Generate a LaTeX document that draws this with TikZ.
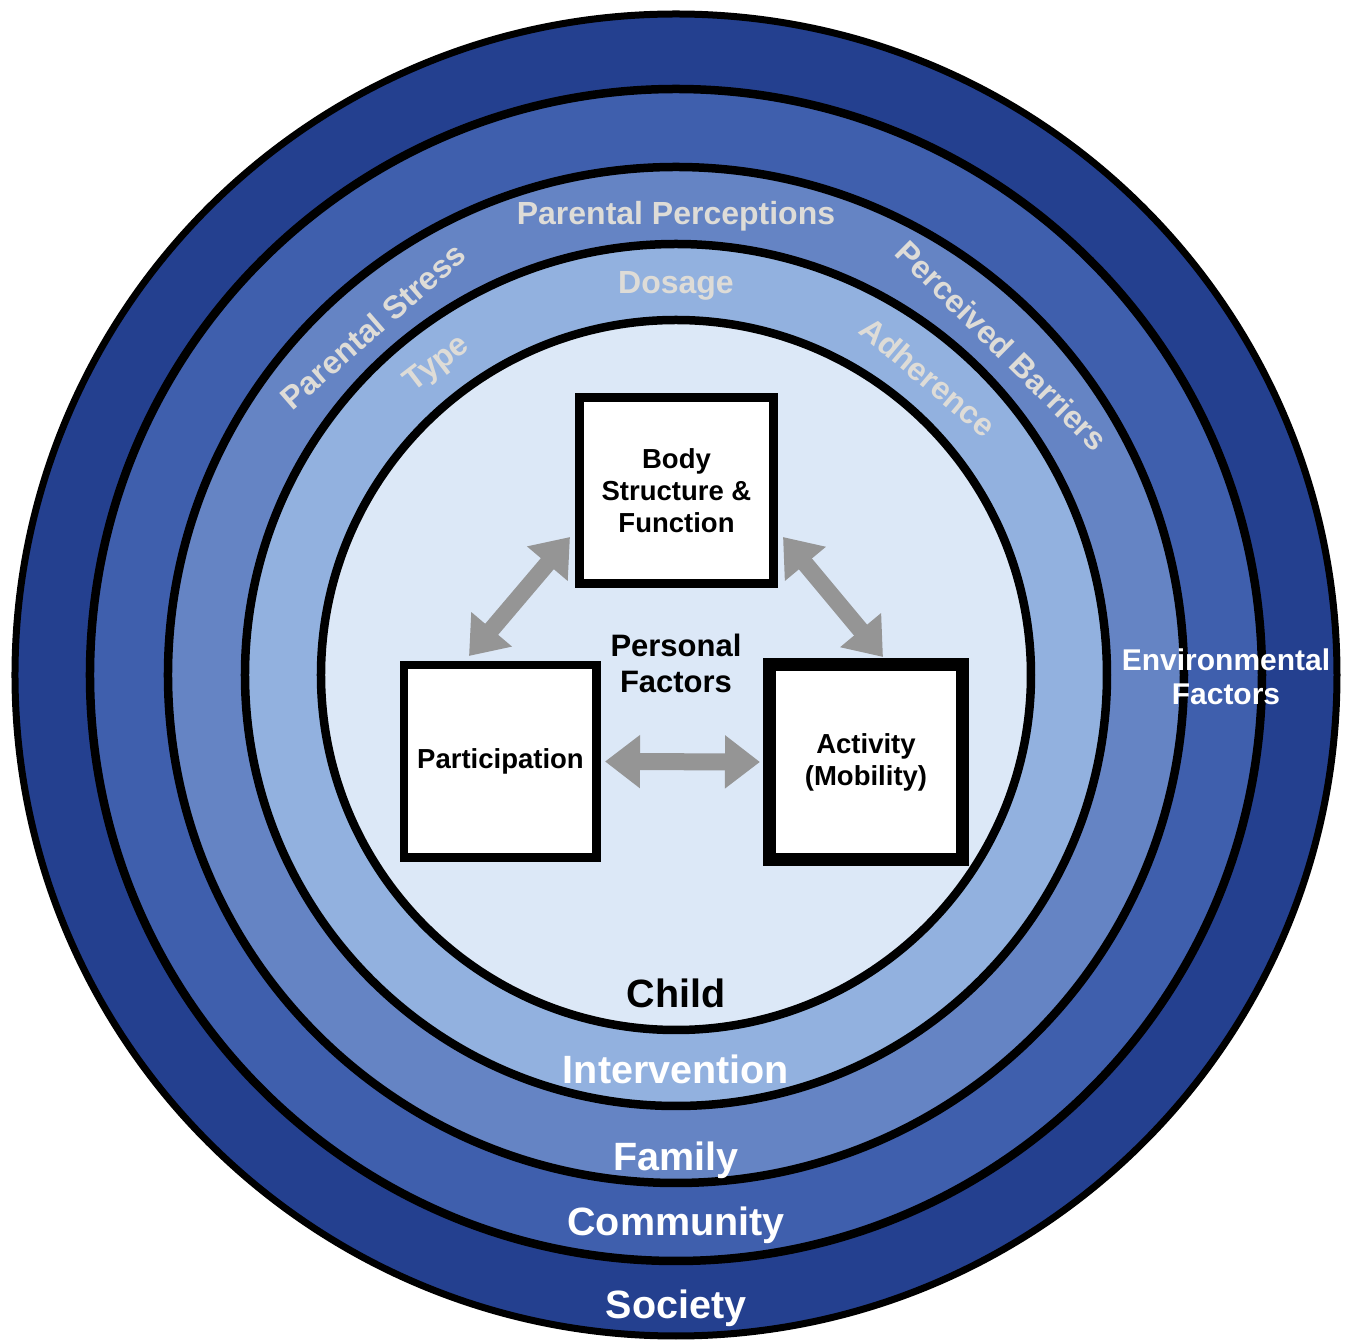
\documentclass[tikz,border=0pt]{standalone}
\usepackage{fontspec}
\setmainfont{Liberation Sans}
\usetikzlibrary{arrows.meta,calc}

% ring fills, darkest outside
\definecolor{societyblue}{HTML}{24408F}
\definecolor{communityblue}{HTML}{3F5FAD}
\definecolor{familyblue}{HTML}{6584C4}
\definecolor{interventionblue}{HTML}{92B1DF}
\definecolor{childblue}{HTML}{DCE8F7}
\definecolor{arrowgray}{HTML}{959595}
\definecolor{labelgray}{HTML}{DEDCD7}

\begin{document}
\begin{tikzpicture}[x=1pt,y=1pt,
  ring/.style={draw=black, line width=8.5pt},
  factorbox/.style={draw=black, fill=white, inner sep=0pt, align=center,
    font={\fontsize{27.5}{32}\selectfont\bfseries}},
  twoway/.style={draw=arrowgray, line width=17pt,
    {Triangle[length=35pt 0 0, width=51pt 0 0]}-{Triangle[length=35pt 0 0, width=51pt 0 0]}},
  levellabel/.style={anchor=base, text=white, inner sep=0pt,
    font={\fontsize{39.5}{44}\selectfont\bfseries}},
  ringlabel/.style={anchor=base, text=labelgray, inner sep=0pt,
    font={\fontsize{32}{36}\selectfont\bfseries}},
]
\useasboundingbox (-676,-668) rectangle (677,675);

% nested levels
\path[draw=black, line width=7pt, fill=societyblue] (0,0) circle[radius=661];
\path[ring, fill=communityblue] (0,0) circle[radius=586];
\path[ring, fill=familyblue] (0,0) circle[radius=508];
\path[ring, fill=interventionblue] (0,0) circle[radius=431];
\path[ring, fill=childblue] (0,0) circle[radius=355];

% factors set along the family and intervention rings
\node[ringlabel] (perceptions) at (90:450) {Parental Perceptions};
\node[ringlabel, rotate=41] (stress) at (131:451) {Parental Stress};
\node[ringlabel, rotate=-44.7] (barriers) at (45.3:452) {Perceived Barriers};
\node[ringlabel] (dosage) at (90:381) {Dosage};
\node[ringlabel, rotate=37.5] (type) at (127.5:384) {Type};
\node[ringlabel, rotate=-40.2] (adherence) at (49.8:379) {Adherence};

% level names
\node[levellabel, text=black] (child) at (0,-333) {Child};
\node[levellabel] (intervention) at (0,-409) {Intervention};
\node[levellabel] (family) at (0,-496) {Family};
\node[levellabel] (community) at (0,-561) {Community};
\node[levellabel] (society) at (0,-643) {Society};
\node[align=center, text=white, inner sep=0pt,
  font={\fontsize{30}{34}\selectfont\bfseries}] (environment) at (550,-2)
  {Environmental\\Factors};

% ICF components
\node[factorbox, line width=9pt, outer sep=4.5pt,
  minimum width=194pt, minimum height=186pt] (body) at (0.5,184.5)
  {Body\\Structure \&\\Function};
\node[factorbox, line width=8.5pt, outer sep=4.25pt,
  minimum width=192.5pt, minimum height=192.5pt] (participation) at (-175.5,-86.5)
  {Participation};
\node[factorbox, line width=13pt, outer sep=6.5pt,
  minimum width=193pt, minimum height=195pt] (activity) at (190,-87)
  {Activity\\(Mobility)};
\node[align=center, inner sep=0pt,
  font={\fontsize{31}{36}\selectfont\bfseries}] (personal) at (0,12)
  {Personal\\Factors};

% arrow ends just off the box edges
\coordinate (bodyleft) at ($(body.south west)+(-5,51)$);
\coordinate (bodyright) at ($(body.south east)+(5,51)$);
\coordinate (partup) at ($(participation.north)+(-31.5,5)$);
\coordinate (actup) at ($(activity.north)+(17,1)$);
\coordinate (partside) at ($(participation.east)+(4,0)$);
\coordinate (actside) at ($(activity.west)+(-3,0)$);

\draw[twoway] (bodyleft) -- (partup);
\draw[twoway] (bodyright) -- (actup);
\draw[twoway] (partside) -- (actside);
\end{tikzpicture}
\end{document}
